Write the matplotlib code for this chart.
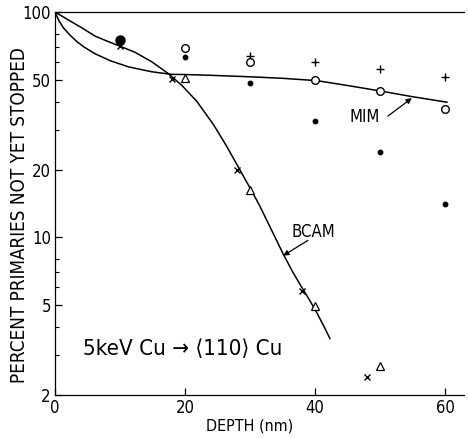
import matplotlib.pyplot as plt
from matplotlib.ticker import FixedLocator, NullFormatter

plt.rcParams["font.family"] = ["DejaVu Sans"]
plt.rcParams["font.stretch"] = "condensed"

# depth (nm) for the simulation points
depth = [10, 20, 30, 40, 50, 60]
dots = [75, 63, 48.5, 33, 24, 14]
plus = [75, 69, 64, 60, 56, 51.5]
circles = [75, 69, 60, 50, 44.5, 37]

cross_depth = [10, 18, 28, 38, 48]
cross_vals = [70.5, 50.5, 20, 5.8, 2.4]

tri_depth = [20, 30, 40, 50]
tri_vals = [51, 16.3, 4.95, 2.7]

# calculated curves
bcam_x = [0, 2, 4, 6.15, 8, 10, 12.3, 14.9, 17.4, 19.5, 21.8, 24.4, 26.4, 28.5,
          30.3, 31.5, 33.3, 35.1, 36.6, 37.9, 39.2, 40.3, 41.3, 42.3]
bcam_y = [100, 92.4, 85.5, 78.2, 74.3, 70.5, 66.3, 60.1, 53.4, 47.3, 40.2, 31.6, 25.4, 19.8,
          16.0, 13.8, 10.8, 8.45, 7.0, 6.05, 5.25, 4.62, 4.07, 3.56]

mim_x = [0, 0.6, 1.3, 2.3, 3.3, 4.35, 6.15, 8.5, 11.3, 14.9, 17.9, 20, 23.8, 30, 35,
         40.3, 45.4, 50.5, 55, 60.3]
mim_y = [100, 91.5, 85, 79, 74.2, 70.3, 65.3, 60.8, 57.1, 54.3, 52.9, 52.8, 52.4, 51.6,
         50.8, 49.6, 47.0, 44.4, 42.1, 39.8]

fig = plt.figure(figsize=(4.69, 4.38), dpi=100)
ax = fig.add_axes([0.1173, 0.0982, 0.8731, 0.8744])

ax.plot(bcam_x, bcam_y, color="black", lw=1.1)
ax.plot(mim_x, mim_y, color="black", lw=1.1)

ax.plot(depth, dots, "o", color="black", ms=3.2, ls="none")
ax.plot(depth, plus, "+", color="black", ms=6, mew=1.0, ls="none")
ax.plot(depth[1:], circles[1:], "o", mfc="white", mec="black", ms=5.5, mew=1.0, ls="none")
ax.plot(depth[:1], circles[:1], "o", color="black", ms=6.5, ls="none")
ax.plot(cross_depth, cross_vals, "x", color="black", ms=4.5, mew=1.0, ls="none")
ax.plot(tri_depth, tri_vals, "^", mfc="white", mec="black", ms=5.5, mew=0.9, ls="none")

# curve labels with arrows
ax.text(47.7, 34.2, "MIM", fontsize=12, ha="center", va="center")
ax.annotate("", xy=(54.9, 41.5), xytext=(51.2, 34.5),
            arrowprops=dict(arrowstyle="-|>", color="black", lw=0.9,
                            shrinkA=0, shrinkB=0, mutation_scale=8))
ax.text(39.7, 10.6, "BCAM", fontsize=12, ha="center", va="center")
ax.annotate("", xy=(35.1, 8.3), xytext=(38.9, 9.7),
            arrowprops=dict(arrowstyle="-|>", color="black", lw=0.9,
                            shrinkA=0, shrinkB=0, mutation_scale=8))

ax.text(4.3, 3.2, "5keV Cu \u2192 \u27e8110\u27e9 Cu", fontsize=16, ha="left", va="center")

ax.set_yscale("log")
ax.set_xlim(0, 63)
ax.set_ylim(2, 100)
ax.yaxis.set_major_locator(FixedLocator([2, 5, 10, 20, 50, 100]))
ax.yaxis.set_minor_locator(FixedLocator([3, 4, 6, 7, 8, 30, 40, 60, 70, 80]))
ax.yaxis.set_minor_formatter(NullFormatter())
ax.set_yticklabels(["2", "5", "10", "20", "50", "100"])
ax.set_xticks([0, 20, 40, 60])

ax.tick_params(axis="both", which="major", direction="in", length=5, width=0.9,
               labelsize=12, pad=3)
ax.tick_params(axis="both", which="minor", direction="in", length=3, width=0.8)
ax.tick_params(top=False, right=False)

ax.spines["right"].set_visible(False)
for s in ["left", "bottom", "top"]:
    ax.spines[s].set_linewidth(0.9)

ax.set_xlabel("DEPTH (nm)", fontsize=11.5)
ax.set_ylabel("PERCENT PRIMARIES NOT YET STOPPED", fontsize=13.5)
ax.xaxis.set_label_coords(0.476, -0.062)
ax.yaxis.set_label_coords(-0.063, 0.47)

fig.savefig("out.png", dpi=100)
